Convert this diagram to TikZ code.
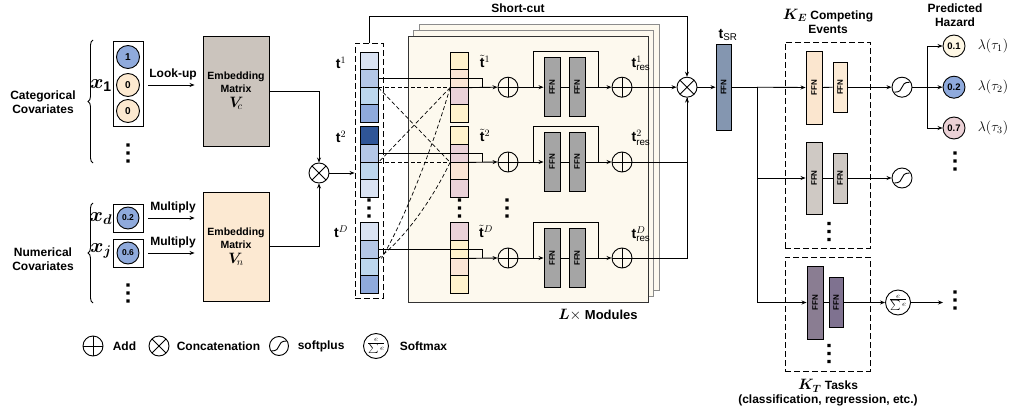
\RequirePackage{fix-cm}
\documentclass[tikz,border=0pt]{standalone}
\usepackage{fontspec}
\setmainfont{Liberation Sans}
\usepackage{bm}
\usetikzlibrary{arrows.meta,decorations.pathreplacing,calc}
\definecolor{vcgray}{HTML}{CBC4BD}
\definecolor{vnpeach}{HTML}{FCE9D2}
\definecolor{bluec}{HTML}{8FAADC}
\definecolor{peachc}{HTML}{FCE9D0}
\definecolor{tkA}{HTML}{DAE3F3}
\definecolor{tkB}{HTML}{B4C7E7}
\definecolor{tkC}{HTML}{BDD7EE}
\definecolor{tkD}{HTML}{8FAADC}
\definecolor{tkE}{HTML}{2F5597}
\definecolor{ttY}{HTML}{FFF2CC}
\definecolor{ttP}{HTML}{FBE5D6}
\definecolor{ttK}{HTML}{EAD1D8}
\definecolor{panelfill}{HTML}{FDF9EE}
\definecolor{ffngray}{HTML}{A5A5A5}
\definecolor{srfill}{HTML}{8496B0}
\definecolor{evA}{HTML}{FBE6CF}
\definecolor{evB}{HTML}{FCEBD6}
\definecolor{evC}{HTML}{CFC9C4}
\definecolor{tkfA}{HTML}{8A7D92}
\definecolor{tkfB}{HTML}{7F7290}
\definecolor{hzA}{HTML}{FFF8E5}
\definecolor{hzC}{HTML}{EBD1D6}
\tikzset{
  vdots/.pic={\fill (-1.7pt,-9.7pt) rectangle (1.7pt,-6.3pt) (-1.7pt,-1.7pt) rectangle (1.7pt,1.7pt) (-1.7pt,6.3pt) rectangle (1.7pt,9.7pt);}
}
\newcommand{\smfrac}{{\fontsize{10.5}{10.5}\selectfont$\frac{e}{\sum e}$}}
\begin{document}
\begin{tikzpicture}[x=1pt,y=-1pt,line width=0.9pt,
  arr/.style={-{Stealth[length=5pt,width=4pt]}},
  lab/.style={font=\fontsize{12}{14}\selectfont\bfseries},
  tl/.style={font=\fontsize{14}{14}\selectfont},
  brc/.style={decorate,decoration={brace,amplitude=5pt}},
  cell/.style={draw,minimum width=18pt,minimum height=17.6pt,inner sep=0pt,line width=0.8pt},
  ffn/.style={draw,fill=ffngray,inner sep=0pt,font=\fontsize{8}{8}\selectfont\bfseries},
  val/.style={circle,draw,minimum size=23pt,inner sep=0pt,font=\fontsize{10}{10}\selectfont\bfseries},
  op/.style={circle,draw,minimum size=20pt,inner sep=0pt},
  addop/.style={op,path picture={\draw (path picture bounding box.north) -- (path picture bounding box.south) (path picture bounding box.west) -- (path picture bounding box.east);}},
  catop/.style={op,path picture={\draw (path picture bounding box.north west) -- (path picture bounding box.south east) (path picture bounding box.north east) -- (path picture bounding box.south west);}},
  spop/.style={op,path picture={\draw ($(path picture bounding box.center)+(-7.5pt,-5pt)$) .. controls +(11pt,0pt) and +(-11pt,0pt) .. ($(path picture bounding box.center)+(7.5pt,5pt)$);}},
  smop/.style={circle,draw,minimum size=25pt,inner sep=0pt},
  emb/.style={draw,minimum width=66pt,align=center,font=\fontsize{10.5}{13}\selectfont\bfseries},
  dbox/.style={draw,dash pattern=on 6pt off 3pt,inner sep=0pt}
]
\useasboundingbox (0,0) rectangle (1014,417);

% ---------- left: categorical ----------
\node[lab,align=center] (catlab) at (43,102) {Categorical\\Covariates};
\draw[brc] (93,163) -- (93,40);
\node (x1lab) at (101,86) {\fontsize{20}{20}\selectfont$\bm{x}_{\mathbf{1}}$};
\node[draw,minimum width=30pt,minimum height=85pt,inner sep=0pt] (catbox) at (128,83.5) {};
\node[val,fill=bluec] (c1) at (128,57) {1};
\node[val,fill=peachc] (c2) at (128,85) {0};
\node[val,fill=peachc] (c3) at (128,111) {0};
\pic at (128,153) {vdots};
\node[emb,fill=vcgray,minimum height=110pt] (Vc) at (236,91) {Embedding\\Matrix\\[2pt]{\fontsize{15}{15}\selectfont$\bm{V}_{\!c}$}};
\draw[arr,shorten <=5pt,shorten >=8pt] (catbox.east |- c2) -- node[above=1pt,lab] (lk) {Look-up} (Vc.west |- c2);

% ---------- left: numerical ----------
\node[lab,align=center] (numlab) at (43,259) {Numerical\\Covariates};
\draw[brc] (93,303) -- (93,203);
\node (xdlab) at (101,219) {\fontsize{20}{20}\selectfont$\bm{x}_{\bm{d}}$};
\node (xjlab) at (101,251) {\fontsize{20}{20}\selectfont$\bm{x}_{\bm{j}}$};
\node[draw,minimum width=30pt,minimum height=28pt,inner sep=0pt] (bxd) at (128,218) {};
\node[draw,minimum width=30pt,minimum height=28pt,inner sep=0pt] (bxj) at (128,253) {};
\node[val,fill=bluec,minimum size=22pt,font=\fontsize{8.5}{8.5}\selectfont\bfseries] (cd) at (128,218) {0.2};
\node[val,fill=bluec,minimum size=22pt,font=\fontsize{8.5}{8.5}\selectfont\bfseries] (cj) at (128,253) {0.6};
\pic at (128,293) {vdots};
\node[emb,fill=vnpeach,minimum height=109pt] (Vn) at (236,246.5) {Embedding\\Matrix\\[2pt]{\fontsize{15}{15}\selectfont$\bm{V}_{\!n}$}};
\draw[arr,shorten <=5pt,shorten >=8pt] (bxd.east) -- node[above=1pt,lab] (m1) {Multiply} (Vn.west |- bxd.east);
\draw[arr,shorten <=5pt,shorten >=8pt] (bxj.east) -- node[above=1pt,lab] (m2) {Multiply} (Vn.west |- bxj.east);

\node[catop] (cat1) at (319,173) {};
\draw[arr] (Vc.east) -| (cat1.north);
\draw[arr] (Vn.east) -| (cat1.south);

% ---------- module panels ----------
\node[draw=black!45,fill=panelfill,minimum width=240pt,minimum height=266pt] (p3) at (539,157) {};
\node[draw=black!45,fill=panelfill,minimum width=240pt,minimum height=266pt] (p2) at (533.5,163) {};
\node[draw=black!80,fill=panelfill,minimum width=240pt,minimum height=266pt] (p1) at (528,169) {};
\node[font=\fontsize{13}{13}\selectfont\bfseries] (lmod) at (598,315) {{\fontsize{15}{15}\selectfont$\bm{L}\times$} Modules};

% ---------- token column ----------
\node[dbox,minimum width=28pt,minimum height=255pt] (tokbox) at (369,170.5) {};
\draw[arr] (cat1.east) -- (tokbox.west |- cat1.east);
\foreach \c [count=\k] in {tkA,tkB,tkC,tkD} \node[cell,fill=\c] (a1\k) at (369,43.2+17.6*\k) {};
\foreach \c [count=\k] in {tkE,tkB,tkC,tkA} \node[cell,fill=\c] (a2\k) at (369,118+17.6*\k) {};
\foreach \c [count=\k] in {tkA,tkB,tkC,tkD} \node[cell,fill=\c] (aD\k) at (369,214+17.6*\k) {};
\pic at (369,208) {vdots};
\node[tl] (tl1) at (341,63) {$\mathbf{t}^1$};
\node[tl] (tl2) at (341,137) {$\mathbf{t}^2$};
\node[tl] (tlD) at (341,232) {$\mathbf{t}^D$};

% ---------- tilde column ----------
\foreach \c [count=\k] in {ttY,ttP,ttK,ttY} \node[cell,fill=\c] (b1\k) at (459.5,43.2+17.6*\k) {};
\foreach \c [count=\k] in {ttY,ttK,ttP,ttK} \node[cell,fill=\c] (b2\k) at (459.5,118+17.6*\k) {};
\foreach \c [count=\k] in {ttK,ttY,ttP,ttY} \node[cell,fill=\c] (bD\k) at (459.5,214+17.6*\k) {};
\pic at (459.5,208) {vdots};
\pic at (507,208) {vdots};
\node[tl] (tt1) at (485,61) {$\tilde{\mathbf{t}}^1$};
\node[tl] (tt2) at (485,135) {$\tilde{\mathbf{t}}^2$};
\node[tl] (ttD) at (486,231) {$\tilde{\mathbf{t}}^D$};

% ---------- dashed attention lines ----------
\begin{scope}[line width=0.7pt,dash pattern=on 4pt off 2.5pt]
\draw (a12.south east) -- (b12.south west);
\draw (a22.south east) -- (b22.south west);
\draw (a12.south east) -- (b22.south west);
\draw (b12.south west) -- (a22.south east);
\draw (b12.south west) .. controls (432,150) and (402,225) .. ([xshift=3pt]aD2.south east);
\draw (b22.south west) .. controls (432,200) and (405,238) .. (aD2.south east);
\end{scope}

% ---------- rows ----------
\foreach \r/\y in {1/87.2,2/162,D/258} {
  \node[addop] (pa\r) at (508,\y) {};
  \node[ffn,minimum width=16pt,minimum height=59pt] (fa\r) at (552,\y) {\rotatebox{90}{FFN}};
  \node[ffn,minimum width=16pt,minimum height=59pt] (fb\r) at (577,\y) {\rotatebox{90}{FFN}};
  \node[addop] (pb\r) at (622,\y) {};
  \coordinate (sl\r) at (533,\y);
  \coordinate (sr\r) at (598,\y);
  \coordinate (rj\r) at (482,\y);
  \draw (a\r2.east) -| (rj\r);
  \draw[arr] (b\r2.south east) -- (pa\r.west);
  \draw[arr] (pa\r.east) -- (fa\r.west);
  \draw (fa\r.east) -- (fb\r.west);
  \draw[arr] (fb\r.east) -- (pb\r.west);
  \draw (sl\r) -- ++(0,-36) -| (sr\r);
  \node[tl] (tr\r) at (641,\y-24) {$\mathbf{t}^{\r}_{\mathrm{res}}$};
}

% ---------- concat 2 & short-cut ----------
\node[catop] (cat2) at (687,87.2) {};
\draw[arr] (pb1.east) -- (cat2.west);
\draw (pb2.east) -| (cat2.south);
\draw[arr] (pbD.east) -| (cat2.south);
\draw[arr] (tokbox.north) -- ++(0,-26) -| (cat2.north);
\node[lab] (sclab) at (518,8) {Short-cut};

% ---------- t_SR ----------
\node[ffn,fill=srfill,minimum width=15pt,minimum height=86pt] (sr) at (723.5,87.2) {\rotatebox{90}{FFN}};
\node[tl] (srlab) at (728,35) {$\mathbf{t}_{\mathrm{SR}}$};
\draw[arr] (cat2.east) -- (sr.west);

% ---------- heads ----------
\node[dbox,minimum width=85pt,minimum height=206pt] (KE) at (827.5,145) {};
\node[dbox,minimum width=85pt,minimum height=114pt] (KT) at (827.5,314) {};
\node[ffn,fill=evA,minimum width=16pt,minimum height=73pt] (e1a) at (814,87.5) {\rotatebox{90}{FFN}};
\node[ffn,fill=evB,minimum width=14pt,minimum height=50pt] (e1b) at (840,87.2) {\rotatebox{90}{FFN}};
\node[ffn,fill=evC,minimum width=16pt,minimum height=72pt] (e2a) at (814,178) {\rotatebox{90}{FFN}};
\node[ffn,fill=evC,minimum width=14pt,minimum height=50pt] (e2b) at (840,178) {\rotatebox{90}{FFN}};
\node[ffn,fill=tkfA,minimum width=16pt,minimum height=73pt] (ka) at (815,302.5) {\rotatebox{90}{FFN}};
\node[ffn,fill=tkfB,minimum width=14pt,minimum height=50pt] (kb) at (836,302.5) {\rotatebox{90}{FFN}};
\pic at (829,231.5) {vdots};
\pic at (829,353.5) {vdots};
\coordinate (jn) at (757,87.2);
\draw (sr.east) -- (jn);
\draw[arr] (jn) -- (e1a.west);
\draw[arr] (jn) |- (e2a.west);
\draw[arr] (jn) |- (ka.west);
\draw (e1a.east) -- (e1b.west);
\draw (e2a.east) -- (e2b.west);
\draw (ka.east) -- (kb.west);

\node[lab,align=center] (kelab) at (828,21) {{\fontsize{15}{15}\selectfont$\bm{K}_{\bm{E}}$} Competing\\Events};
\node[lab,align=center] (ktlab) at (828,393) {{\fontsize{15}{15}\selectfont$\bm{K}_{\bm{T}}$} Tasks\\(classification, regression, etc.)};

% ---------- outputs ----------
\node[spop] (sp1) at (902,87.2) {};
\node[spop] (sp2) at (902,178) {};
\node[smop] (sm) at (898,302.5) {\smfrac};
\draw[arr] (e1b.east) -- (sp1.west);
\draw[arr] (e2b.east) -- (sp2.west);
\draw[arr] (kb.east) -- (sm.west);
\coordinate (smend) at (943,302.5);
\draw[arr] (sm.east) -- (smend);
\pic at (955,300) {vdots};

\node[val,fill=hzA,minimum size=22pt,font=\fontsize{9.5}{9.5}\selectfont\bfseries] (h1) at (954,46) {0.1};
\node[val,fill=bluec,minimum size=22pt,font=\fontsize{9.5}{9.5}\selectfont\bfseries] (h2) at (954,87.2) {0.2};
\node[val,fill=hzC,minimum size=22pt,font=\fontsize{9.5}{9.5}\selectfont\bfseries] (h3) at (954,128) {0.7};
\coordinate (kn) at (927,87.2);
\draw (sp1.east) -- (kn);
\draw[arr] (kn) |- (h1.west);
\draw[arr] (kn) -- (h2.west);
\draw[arr] (kn) |- (h3.west);
\node[tl] (l1) at (993,46) {$\lambda(\tau_1)$};
\node[tl] (l2) at (993,87.2) {$\lambda(\tau_2)$};
\node[tl] (l3) at (993,128) {$\lambda(\tau_3)$};
\pic at (955,161) {vdots};
\node[lab,align=center] (phlab) at (955,15) {Predicted\\Hazard};

% ---------- legend ----------
\node[addop] (lg1) at (93,346) {};
\node[lab,anchor=west] (lt1) at (109,346) {Add};
\node[catop] (lg2) at (159,346) {};
\node[lab,anchor=west] (lt2) at (173,346) {Concatenation};
\node[spop,minimum size=19pt] (lg3) at (279,346) {};
\node[lab,anchor=west] (lt3) at (294,346) {softplus};
\node[smop] (lg4) at (376,346) {\smfrac};
\node[lab,anchor=west] (lt4) at (396,346) {Softmax};
\end{tikzpicture}
\end{document}
